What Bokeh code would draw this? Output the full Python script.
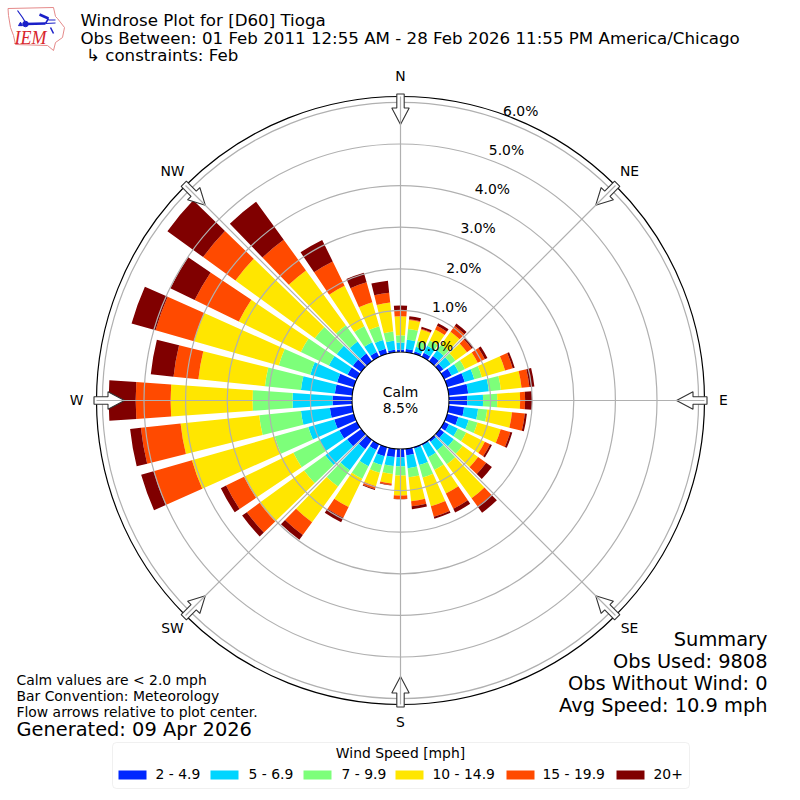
import math
from bokeh.plotting import figure
from bokeh.models import Range1d, BoxAnnotation
from bokeh.core.properties import value
from bokeh.embed import file_html
from bokeh.resources import INLINE

directions = list(range(0, 360, 10))
speed_2_5 = [.06,.08,.06,.11,.16,.11,.20,.44,.47,.44,.37,.28,.13,.13,.06,.04,.04,.16,.20,.20,.23,.16,.28,.42,.47,.49,.54,.47,.42,.42,.25,.25,.23,.13,.13,.06]
speed_5_7 = [.17,.22,.12,.19,.17,.22,.19,.24,.50,.38,.34,.26,.24,.29,.26,.31,.41,.31,.22,.22,.22,.43,.63,.65,.53,.65,.70,.96,.82,.67,.50,.48,.36,.26,.22,.22]
speed_7_10 = [.17,.26,.14,.14,.17,.14,.17,.19,.29,.34,.22,.22,.22,.26,.41,.34,.31,.22,.22,.19,.19,.34,.48,.63,.70,.84,1.01,.96,.87,.79,.75,.65,.48,.43,.34,.22]
speed_10_15 = [.46,.22,.29,.29,.38,.34,.34,.58,.50,.55,.60,.58,.50,.46,1.01,.63,.72,.58,.48,.23,.34,.75,1.06,1.32,1.32,2.07,1.90,1.97,1.61,2.12,1.66,2.36,1.63,1.08,.60,.70]
speed_15_20 = [.14,.02,.02,.10,.17,.14,.19,.19,.19,.12,.31,.24,.14,.24,.24,.41,.26,.12,.08,.04,.07,.29,.38,.38,.48,.96,.96,.84,.60,.96,1.18,.96,.91,.65,.50,.24]
speed_20 = [.12,.07,.05,.07,.07,.05,.07,.05,.12,.17,.05,.05,.05,.17,.19,.10,.05,.07,.01,.01,.02,.12,.14,.14,.14,.31,.26,.65,.55,.60,.65,1.06,1.13,.58,.24,.29]
series = [speed_2_5, speed_5_7, speed_7_10, speed_10_15, speed_15_20, speed_20]
speed_labels = ["2 - 4.9", "5 - 6.9", "7 - 9.9", "10 - 14.9", "15 - 19.9", "20+"]
colors = ["#0028ff", "#00d5ff", "#7dff7a", "#ffe600", "#ff4a00", "#800000"]
ring_values = [0, 1, 2, 3, 4, 5, 6]
ring_labels = ["0.0%", "1.0%", "2.0%", "3.0%", "4.0%", "5.0%", "6.0%"]
compass = [("N", 0), ("NE", 45), ("E", 90), ("SE", 135), ("S", 180), ("SW", 225), ("W", 270), ("NW", 315)]
title_lines = ["Windrose Plot for [D60] Tioga",
               "Obs Between: 01 Feb 2011 12:55 AM - 28 Feb 2026 11:55 PM America/Chicago",
               "\u21b3 constraints: Feb"]
note_lines = ["Calm values are < 2.0 mph", "Bar Convention: Meteorology", "Flow arrows relative to plot center."]
summary_lines = ["Summary", "Obs Used: 9808", "Obs Without Wind: 0", "Avg Speed: 10.9 mph"]

S = 41.6              # pixels per percent
HOLE = 48.5 / S       # radius of the calm circle, in percent units
R = 400 / S
OUTER = 304 / S
BAR_W = 8.0
FONT = value("DejaVu Sans")


def X(px):
    return (px - 400) / S


def Y(py):
    return (400 - py) / S


p = figure(width=800, height=800, x_range=Range1d(-R, R), y_range=Range1d(-R, R),
           toolbar_location=None, output_backend="svg", min_border=0,
           outline_line_color=None, x_axis_type=None, y_axis_type=None)
p.grid.visible = False

# stacked bars
base = [HOLE] * len(directions)
for vals, col in zip(series, colors):
    top = [b + v for b, v in zip(base, vals)]
    p.annular_wedge(x=[0] * len(directions), y=[0] * len(directions),
                    inner_radius=base, outer_radius=top,
                    start_angle=[math.pi / 2 - math.radians(d + BAR_W / 2) for d in directions],
                    end_angle=[math.pi / 2 - math.radians(d - BAR_W / 2) for d in directions],
                    fill_color=col, line_color=None)
    base = top

# grid
GRID = "#b0b0b0"
p.circle(x=[0] * 6, y=[0] * 6, radius=[HOLE + v for v in ring_values[1:]],
         fill_color=None, line_color=GRID, line_width=1.2)
p.circle(x=[0], y=[0], radius=[HOLE], fill_color="white", fill_alpha=0, line_color="black", line_width=1.1)
p.circle(x=[0], y=[0], radius=[OUTER], fill_color=None, line_color="black", line_width=1.2)

# compass arrows, pointing at the plot centre
shape = [(-3.7, 306.5), (3.7, 306.5), (3.7, 292.5), (8.7, 292.5), (0, 276), (-8.7, 292.5), (-3.7, 292.5)]
xs, ys = [], []
for _, a in compass:
    t = math.radians(a)
    xs.append([(r * math.sin(t) + w * math.cos(t)) / S for w, r in shape])
    ys.append([(r * math.cos(t) - w * math.sin(t)) / S for w, r in shape])
p.patches(xs, ys, fill_color="white", line_color="#333333", line_width=1.1)

for _, a in compass:
    t = math.radians(a)
    p.line([HOLE * math.sin(t), OUTER * math.sin(t)], [HOLE * math.cos(t), OUTER * math.cos(t)],
           line_color=GRID, line_width=1.2)

label_pos = {"N": (400, 76), "NE": (629, 171), "E": (723, 400), "SE": (629, 628),
             "S": (400, 722), "SW": (172, 628), "W": (76, 400), "NW": (172, 171)}


def txt(x, y, s, size=13.9, align="left", color="black", font=FONT, style="normal"):
    p.text(x=[X(x)], y=[Y(y - 0.8)], text=[s], text_font=font, text_font_size=value(f"{size}px"),
           text_align=align, text_baseline="middle", text_color=color, text_font_style=style)


for name, _ in compass:
    txt(*label_pos[name], name, align="center")
for i, lab in enumerate(ring_labels):
    txt(435 + i * 14.2, 346 - i * 39.1, lab, align="center")

txt(400, 392, "Calm", align="center")
txt(400, 408, "8.5%", align="center")

for line, x, y in zip(title_lines, [80, 80, 85.5], [21, 39, 56]):
    txt(x, y, line, size=16.67)
for line, y in zip(note_lines, [680, 696, 712]):
    txt(16, y, line)
txt(16, 730, "Generated: 09 Apr 2026", size=19.4)
for line, y in zip(summary_lines, [640, 662, 684, 706]):
    txt(767, y, line, size=19.4, align="right")

# legend
p.add_layout(BoxAnnotation(left=X(112), right=X(689), top=Y(742), bottom=Y(788),
                           fill_alpha=0, line_color="#cccccc", line_width=1, border_radius=4))
txt(400, 753, "Wind Speed [mph]", align="center")
sw_left = [118, 210, 303, 395, 506, 616]
sw_text = [155, 248, 341, 432, 542, 653]
for l, tx, lab, col in zip(sw_left, sw_text, speed_labels, colors):
    p.quad(left=[X(l)], right=[X(l + 28)], top=[Y(770)], bottom=[Y(779)], fill_color=col, line_color=None)
    txt(tx, 774.5, lab)

# IEM logo
outline_x = [7.5, 53, 55, 57, 64, 62, 55, 53, 47, 15, 13, 10, 8]
outline_y = [8, 7, 16, 18, 27, 37, 42, 50, 45, 44, 35, 27, 15]
p.patch([X(v) for v in outline_x], [Y(v) for v in outline_y], fill_color="white",
        line_color="#e58a8a", line_width=1)
BLUE = "#1a1fc8"
p.line([X(25), X(45)], [Y(23.5), Y(23)], line_color=BLUE, line_width=2.5)
p.line([X(45), X(55)], [Y(23), Y(22.5)], line_color=BLUE, line_width=1)
p.line([X(39), X(48)], [Y(14), Y(18)], line_color=BLUE, line_width=2.5)
p.line([X(48), X(45)], [Y(18), Y(23)], line_color=BLUE, line_width=1.5)
p.line([X(48), X(55)], [Y(19.5), Y(19.5)], line_color=BLUE, line_width=1)
p.line([X(17), X(22), X(25)], [Y(10), Y(17), Y(22)], line_color=BLUE, line_width=1.2)
p.line([X(50), X(53)], [Y(27), Y(33)], line_color=BLUE, line_width=1.5)
p.scatter([X(25)], [Y(23.5)], size=5.5, color=BLUE)
p.scatter([X(20)], [Y(24)], size=4, color=BLUE, marker="triangle")
txt(30, 38.5, "IEM", size=18, align="center", color="#d8262c", font=value("Liberation Serif"), style="italic")

open("out.html", "w").write(file_html(p, INLINE))
